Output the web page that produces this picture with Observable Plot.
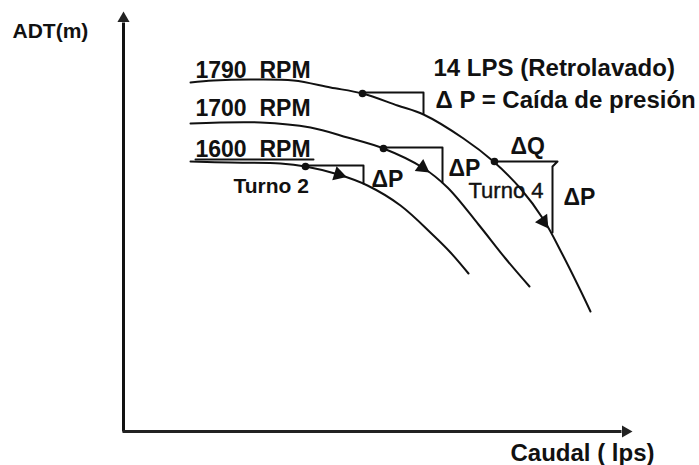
<!DOCTYPE html>
<html>
<head>
<meta charset="utf-8">
<script src="https://cdn.jsdelivr.net/npm/d3@7"></script>
<script src="https://cdn.jsdelivr.net/npm/@observablehq/plot@0.6"></script>
<style>
  html, body { margin: 0; padding: 0; background: #fff; }
  svg text { white-space: pre; }
</style>
</head>
<body>
<div id="chart"></div>
<script>
// Pump curves (Caudal Q vs ADT H), schematic units
const q1790 = [67, 90, 127, 170, 207, 239, 274, 300, 340, 370, 397, 420, 439, 457, 467];
const h1790 = [349, 351, 352, 351, 344, 338, 326, 317, 293, 270, 243, 212, 177, 141, 120];
const q1700 = [67, 137, 187, 224, 260, 299, 324, 355, 382, 406];
const h1700 = [308, 309, 304, 294, 283, 264, 244, 207, 173, 145];
const q1600 = [67, 107, 157, 182, 215, 244, 277, 310, 327, 345];
const h1600 = [270, 269, 268, 265, 257, 246, 226, 196, 179, 158];

// Operating points (dots)
const opQ = [239, 371, 260, 182];
const opH = [338, 270, 283, 265];

// Pressure-drop steps (ΔQ / ΔP)
const step1Q = [239, 300, 300];      const step1H = [339, 339, 318];
const step2Q = [260, 319, 319];      const step2H = [284, 284, 249];
const step3Q = [182, 240, 240];      const step3H = [266, 266, 248];
const step4Q = [371, 434, 429, 429]; const step4H = [270, 270, 265, 199];

// Direction arrows on the curves
const arrowQ = [215, 299, 420];
const arrowH = [257, 264, 210];

// Axis extents
const axisQmax = 502;
const axisHmax = 413;

// Labels
const rpmText = ["1790  RPM", "1700  RPM", "1600  RPM"];
const rpmQ = [72, 72, 72];
const rpmH = [361, 323, 282];
const underlineQ = [72, 190];
const underlineH = [272, 272];

const bigText = ["14 LPS (Retrolavado)", "Δ P = Caída de presión"];
const bigQ = [310, 312];
const bigH = [363, 331];

const dText = ["ΔQ", "ΔP", "ΔP", "ΔP"];
const dQ = [387, 248, 325, 440];
const dH = [285, 252, 263, 234];

const turnoText = ["Turno 2", "Turno 4"];
const turnoQ = [110, 345];
const turnoH = [245, 241];

const yLabel = "ADT(m)";
const yLabelQ = -111, yLabelH = 400;
const xLabel = "Caudal ( lps)";
const xLabelQ = 387, xLabelH = -22;

const toPts = (qs, hs) => qs.map((q, i) => ({q, h: hs[i]}));
const curves = [
  ...toPts(q1790, h1790).map(d => ({...d, rpm: "1790"})),
  ...toPts(q1700, h1700).map(d => ({...d, rpm: "1700"})),
  ...toPts(q1600, h1600).map(d => ({...d, rpm: "1600"}))
];
const steps = [
  ...toPts(step1Q, step1H).map(d => ({...d, s: 1})),
  ...toPts(step2Q, step2H).map(d => ({...d, s: 2})),
  ...toPts(step3Q, step3H).map(d => ({...d, s: 3})),
  ...toPts(step4Q, step4H).map(d => ({...d, s: 4}))
];
const rot = [107, 125, 145];
const arrows = arrowQ.map((q, i) => ({q, h: arrowH[i], r: rot[i]}));
const axisHeads = [{q: 0, h: axisHmax, r: 0}, {q: axisQmax, h: 0, r: 90}];

const font = "Liberation Sans, Arial, Helvetica, sans-serif";

const chart = Plot.plot({
  width: 699,
  height: 465,
  marginLeft: 123,
  marginRight: 74,
  marginTop: 18,
  marginBottom: 34,
  x: {domain: [0, axisQmax], axis: null},
  y: {domain: [0, axisHmax], axis: null},
  style: {fontFamily: font, background: "#fff", overflow: "visible"},
  marks: [
    // axes
    Plot.link([{x1: 0, y1: 0, x2: 0, y2: axisHmax - 4}], {x1: "x1", y1: "y1", x2: "x2", y2: "y2", stroke: "#111", strokeWidth: 3}),
    Plot.link([{x1: -1, y1: 0, x2: axisQmax - 4, y2: 0}], {x1: "x1", y1: "y1", x2: "x2", y2: "y2", stroke: "#222", strokeWidth: 3}),
    Plot.dot(axisHeads, {x: "q", y: "h", symbol: "triangle", r: 4.5, fill: "#222", rotate: "r", dy: 0}),
    // pump curves
    Plot.line(curves, {x: "q", y: "h", z: "rpm", curve: "catmull-rom", stroke: "#111", strokeWidth: 2}),
    // steps
    Plot.line(steps, {x: "q", y: "h", z: "s", stroke: "#111", strokeWidth: 2}),
    // underline 1600
    Plot.line(toPts(underlineQ, underlineH), {x: "q", y: "h", stroke: "#111", strokeWidth: 2}),
    // operating points
    Plot.dot(toPts(opQ, opH), {x: "q", y: "h", r: 3.8, fill: "#111"}),
    // arrows on curves
    Plot.dot(arrows, {x: "q", y: "h", symbol: "triangle", r: 5.5, fill: "#111", rotate: "r"}),
    // labels
    Plot.text(rpmText, {x: (d, i) => rpmQ[i], y: (d, i) => rpmH[i], text: d => d, textAnchor: "start", fontSize: 23, fontWeight: "bold", fill: "#111"}),
    Plot.text(bigText, {x: (d, i) => bigQ[i], y: (d, i) => bigH[i], text: d => d, textAnchor: "start", fontSize: 24, fontWeight: "bold", fill: "#111"}),
    Plot.text(dText, {x: (d, i) => dQ[i], y: (d, i) => dH[i], text: d => d, textAnchor: "start", fontSize: 23, fontWeight: "bold", fill: "#111"}),
    Plot.text([turnoText[0]], {x: turnoQ[0], y: turnoH[0], text: d => d, textAnchor: "start", fontSize: 21, fontWeight: "bold", fill: "#111"}),
    Plot.text([turnoText[1]], {x: turnoQ[1], y: turnoH[1], text: d => d, textAnchor: "start", fontSize: 22, fill: "#111", stroke: "#111", strokeWidth: 0.4}),
    Plot.text([yLabel], {x: yLabelQ, y: yLabelH, text: d => d, textAnchor: "start", fontSize: 21, fontWeight: "bold", fill: "#111"}),
    Plot.text([xLabel], {x: xLabelQ, y: xLabelH, text: d => d, textAnchor: "start", fontSize: 24, fontWeight: "bold", fill: "#111"})
  ]
});
document.getElementById("chart").appendChild(chart);
</script>
</body>
</html>
